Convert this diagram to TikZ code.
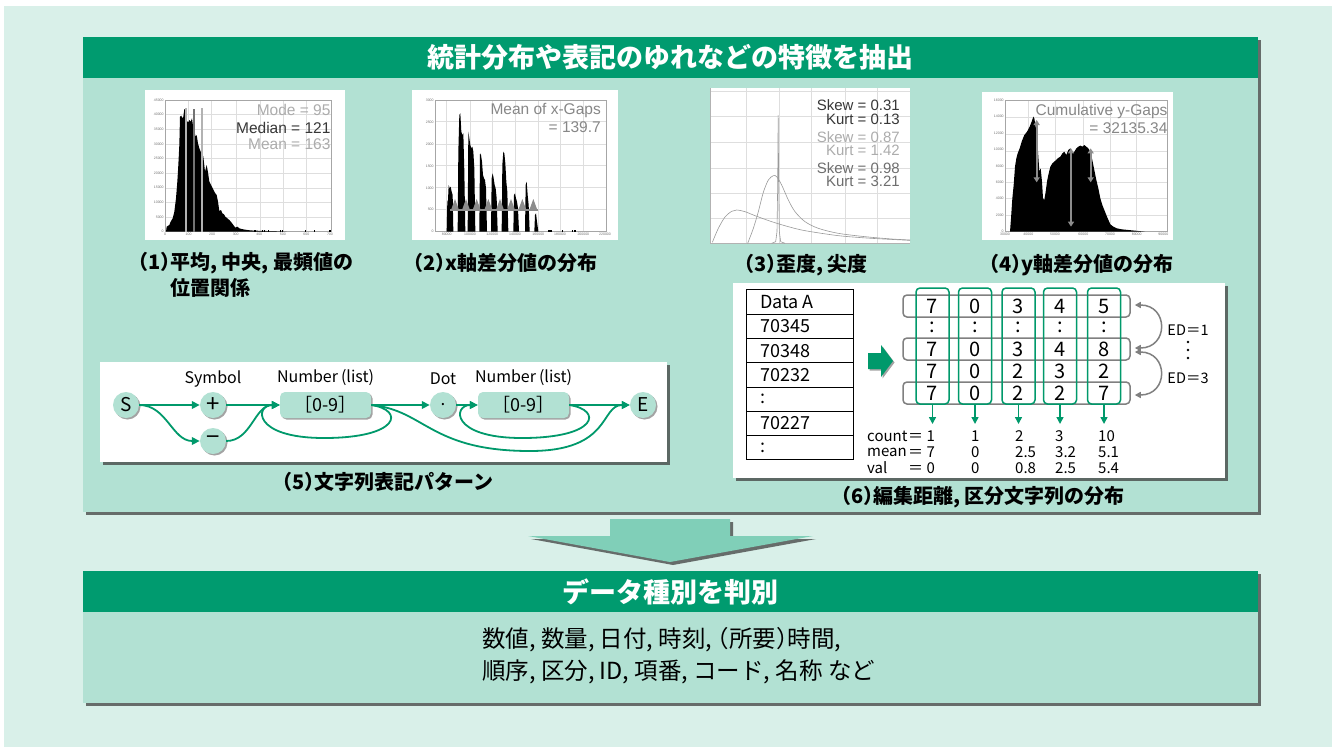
\documentclass[tikz,border=0pt]{standalone}
\usepackage{fontspec}
\setmainfont{Noto Sans CJK JP}
\newfontfamily\plotfont{Liberation Sans}
\usetikzlibrary{shadows,arrows.meta}
\newcommand\LP{\kern-.5em（}
\newcommand\RP{）\kern-.5em}
\definecolor{bgmint}{RGB}{217,240,233}
\definecolor{panelmint}{RGB}{178,225,211}
\definecolor{hdrgreen}{RGB}{0,155,111}
\definecolor{linegreen}{RGB}{0,153,107}
\definecolor{arrowmint}{RGB}{128,207,184}
\definecolor{gridc}{RGB}{222,222,222}
\definecolor{txtlight}{RGB}{172,172,172}
\definecolor{txtmid}{RGB}{110,110,110}
\definecolor{txtdark}{RGB}{55,55,55}
\definecolor{txtgap}{RGB}{135,135,135}
\tikzset{
  bigshadow/.style={drop shadow={shadow xshift=3pt,shadow yshift=-3pt,opacity=0.75,fill=black!75}},
  smallshadow/.style={drop shadow={shadow xshift=1.5pt,shadow yshift=-1.5pt,opacity=0.6,fill=black!60}},
  capt/.style={font=\bfseries\fontsize{20}{22}\selectfont, inner sep=0pt, anchor=west},
  hdr/.style={font=\bfseries\fontsize{27}{29}\selectfont, text=white, inner sep=0pt},
  bodytxt/.style={font=\fontsize{23.5}{25}\selectfont, inner sep=0pt, anchor=west},
  garr/.style={draw=linegreen, line width=1.8pt, -{Triangle[length=8pt,width=7.5pt]}},
  circ/.style={circle, fill=panelmint, minimum size=26pt, inner sep=0pt, smallshadow, font=\fontsize{19}{20}\selectfont},
  rbox/.style={rounded corners=5pt, fill=panelmint, minimum width=91pt, minimum height=26pt, inner sep=0pt, smallshadow, font=\fontsize{18}{19}\selectfont},
  lbl/.style={font=\fontsize{16}{17}\selectfont, inner sep=0pt},
  gridl/.style={draw=gridc, line width=0.4pt},
  frame/.style={draw=black!35, line width=0.4pt},
  tick/.style={font=\plotfont\fontsize{3.5}{4}\selectfont, text=black!55, inner sep=0.5pt},
  ptxt/.style={font=\plotfont\fontsize{15.5}{16}\selectfont, anchor=east, inner sep=0pt},
  tcell/.style={draw=black, line width=1pt, minimum width=107pt, minimum height=24.3pt, inner sep=0pt},
  celltxt/.style={font=\fontsize{18}{19}\selectfont, inner sep=0pt, anchor=west},
  rowbox/.style={draw=black!50, line width=1.5pt, rounded corners=4pt, minimum width=227pt, minimum height=22pt, inner sep=0pt},
  colbox/.style={draw=linegreen, line width=1.5pt, rounded corners=4pt, minimum width=33pt, minimum height=116pt, inner sep=0pt},
  digit/.style={font=\fontsize{20}{21}\selectfont, inner sep=0pt},
  stat/.style={font=\fontsize{15}{16}\selectfont, inner sep=0pt, anchor=west},
  darr/.style={draw=linegreen, line width=1.5pt, -{Triangle[length=7pt,width=7pt]}},
  edarr/.style={draw=black!50, line width=1.5pt, {Triangle[length=6pt,width=6pt]}-{Triangle[length=6pt,width=6pt]}}
}
\begin{document}
\begin{tikzpicture}[x=1pt,y=-1pt]
\useasboundingbox (0,0) rectangle (1332,747);
\fill[white] (0,0) rectangle (1332,747);
\fill[bgmint] (4,6) rectangle (1332,747);

% ===== upper panel =====
\fill[panelmint, bigshadow] (83,37) rectangle (1258,512);
\fill[hdrgreen] (83,37) rectangle (1258,78);
\node[hdr] (title1) at (670,57) {統計分布や表記のゆれなどの特徴を抽出};

% ---- plot 1 ----
\begin{scope}[shift={(140,85)},x=0.33333pt,y=-0.33333pt]
\fill[white] (15,15) rectangle (615,465);
\foreach \gx in {145,215,290,360,430,500} \draw[gridl] (\gx,45) -- (\gx,440);
\foreach \gy in {89,133,177,221,265,309,352,396} \draw[gridl] (75,\gy) -- (575,\gy);
\draw[frame] (75,45) rectangle (575,440);
\foreach \v [count=\i from 0] in {0,5000,10000,15000,20000,25000,30000,35000,40000,45000}
  \node[tick, anchor=east] (h1y\i) at (73,{440-43.9*\i}) {\v};
\foreach \v [count=\i from 0] in {0,100,200,300,400,500,600,700}
  \node[tick, anchor=north] (h1x\i) at ({75+70.7*\i},443) {\v};
\fill[black] (78,440) -- (80,425) -- (88,420) -- (92,410) -- (98,400) -- (103,380) -- (108,340) -- (112,290) -- (115,240) -- (118,180) -- (120,95) -- (124,92) -- (127,100) -- (130,95) -- (133,72) -- (136,75) -- (140,108) -- (145,112) -- (148,105) -- (152,110) -- (156,100) -- (160,130) -- (163,140) -- (167,155) -- (170,150) -- (174,175) -- (178,190) -- (182,200) -- (186,205) -- (190,215) -- (195,260) -- (200,240) -- (204,262) -- (208,290) -- (213,300) -- (218,310) -- (222,318) -- (226,325) -- (230,330) -- (234,350) -- (238,378) -- (243,375) -- (247,385) -- (252,388) -- (256,395) -- (262,400) -- (268,405) -- (274,412) -- (280,420) -- (286,428) -- (292,425) -- (298,430) -- (305,432) -- (315,434) -- (330,436) -- (345,437) -- (380,438) -- (420,439) -- (440,440) -- cycle;
\foreach \bx in {343,366,372,384,420,426,495,522,568} \fill[black] (\bx,440) rectangle ++(4,-6);
\draw[line width=2.3pt, black!30] (138,440) -- (138,70);
\draw[line width=2.3pt, black!55] (162,440) -- (162,72);
\draw[line width=2.3pt, black!30] (187,440) -- (187,70);
\node[ptxt, text=txtlight] (h1mode) at (572,76) {Mode = 95};
\node[ptxt, text=txtdark] (h1med) at (572,128) {Median = 121};
\node[ptxt, text=txtlight] (h1mean) at (572,178) {Mean = 163};
\end{scope}

% ---- plot 2 ----
\begin{scope}[shift={(405,85)},x=0.33333pt,y=-0.33333pt]
\fill[white] (20,15) rectangle (640,465);
\foreach \gx in {125,195,262,330,400,465,535} \draw[gridl] (\gx,45) -- (\gx,440);
\foreach \gy in {110,177,242,308,374} \draw[gridl] (90,\gy) -- (605,\gy);
\draw[frame] (90,45) rectangle (605,440);
\foreach \v [count=\i from 0] in {0,500,1000,1500,2000,2500,3000}
  \node[tick, anchor=east] (h2y\i) at (88,{440-65.8*\i}) {\v};
\foreach \v/\gx [count=\i] in {80000/125,100000/195,120000/262,140000/330,160000/400,180000/465,200000/535,220000/600}
  \node[tick, anchor=north] (h2x\i) at (\gx,443) {\v};
\fill[black] (125,440) -- (127,350) -- (129,345) -- (131,300) -- (134,310) -- (137,305) -- (140,320) -- (143,330) -- (145,440) -- cycle;
\fill[black] (158,440) -- (160,200) -- (163,90) -- (166,85) -- (169,140) -- (172,150) -- (175,145) -- (178,260) -- (181,440) -- cycle;
\fill[black] (188,440) -- (190,140) -- (193,160) -- (196,180) -- (199,190) -- (202,185) -- (205,200) -- (208,250) -- (211,440) -- cycle;
\fill[black] (223,440) -- (225,205) -- (228,210) -- (231,230) -- (234,270) -- (237,280) -- (240,285) -- (243,310) -- (246,440) -- cycle;
\fill[black] (258,440) -- (260,280) -- (263,265) -- (266,280) -- (269,300) -- (272,310) -- (275,340) -- (278,440) -- cycle;
\fill[black] (290,440) -- (292,240) -- (295,200) -- (298,205) -- (301,235) -- (304,290) -- (307,320) -- (310,440) -- cycle;
\fill[black] (325,440) -- (327,330) -- (330,325) -- (333,340) -- (336,350) -- (339,370) -- (342,440) -- cycle;
\fill[black] (360,440) -- (362,300) -- (365,290) -- (368,330) -- (371,360) -- (374,440) -- cycle;
\fill[black] (388,440) -- (390,390) -- (393,385) -- (396,410) -- (400,440) -- cycle;
\foreach \bx in {430,436,470,500,508} \fill[black] (\bx,440) rectangle ++(4,-5);
\draw[line width=1.2pt, black!45] (135,375) -- (400,375);
\foreach \tx in {150,183,215,250,285,318,352,385} \fill[black!45] (\tx-12,375) -- (\tx,342) -- (\tx+12,375) -- cycle;
\node[ptxt, text=txtgap] (h2a) at (588,76) {Mean of x-Gaps};
\node[ptxt, text=txtgap] (h2b) at (588,126) {= 139.7};
\end{scope}

% ---- plot 3 ----
\begin{scope}[shift={(705,85)},x=0.33333pt,y=-0.33333pt]
\fill[white] (15,10) rectangle (615,478);
\foreach \gx in {125,222,320,420,518} \draw[gridl] (\gx,10) -- (\gx,475);
\foreach \gy in {18,95,172,250,325,400} \draw[gridl] (15,\gy) -- (615,\gy);
\draw[black!30, line width=0.5pt] (15,10) -- (15,475) -- (615,475);
\draw[black!40, line width=0.6pt] (200,475) -- (212,470) -- (216,440) -- (218,300) -- (219.5,90) -- (221,300) -- (223,440) -- (227,470) -- (240,475);
\draw[black!40, line width=0.6pt] plot[smooth] coordinates {(128,475) (145,430) (160,380) (175,322) (190,285) (205,272) (215,275) (230,300) (250,345) (270,380) (300,410) (340,430) (400,445) (480,455) (560,462) (615,465)};
\draw[black!40, line width=0.6pt] plot[smooth] coordinates {(22,472) (40,430) (60,396) (80,379) (95,375) (120,380) (150,392) (200,410) (250,425) (300,437) (400,452) (500,460) (615,466)};
\node[ptxt, text=txtdark, font=\plotfont\fontsize{15}{16}\selectfont] (s1) at (585,60) {Skew = 0.31};
\node[ptxt, text=txtdark, font=\plotfont\fontsize{15}{16}\selectfont] (k1) at (585,103) {Kurt = 0.13};
\node[ptxt, text=txtlight, font=\plotfont\fontsize{15}{16}\selectfont] (s2) at (585,155) {Skew = 0.87};
\node[ptxt, text=txtlight, font=\plotfont\fontsize{15}{16}\selectfont] (k2) at (585,197) {Kurt = 1.42};
\node[ptxt, text=txtmid, font=\plotfont\fontsize{15}{16}\selectfont] (s3) at (585,248) {Skew = 0.98};
\node[ptxt, text=txtmid, font=\plotfont\fontsize{15}{16}\selectfont] (k3) at (585,290) {Kurt = 3.21};
\end{scope}

% ---- plot 4 ----
\begin{scope}[shift={(975,85)},x=0.33333pt,y=-0.33333pt]
\fill[white] (20,20) rectangle (595,465);
\foreach \gx in {160,240,325,405,485} \draw[gridl] (\gx,45) -- (\gx,440);
\foreach \gy in {97,148,200,250,293,340,390} \draw[gridl] (90,\gy) -- (578,\gy);
\draw[frame] (90,45) rectangle (578,440);
\foreach \v [count=\i from 0] in {0,2000,4000,6000,8000,10000,12000,14000,16000}
  \node[tick, anchor=east] (h4y\i) at (88,{440-49.4*\i}) {\v};
\foreach \v/\gx [count=\i] in {30000/90,40000/160,50000/240,60000/325,70000/405,80000/485,90000/565}
  \node[tick, anchor=north] (h4x\i) at (\gx,443) {\v};
\fill[black] (105,440) -- (108,400) -- (112,340) -- (116,300) -- (120,245) -- (124,220) -- (128,205) -- (134,190) -- (140,170) -- (148,150) -- (156,140) -- (164,125) -- (170,110) -- (175,95) -- (178,100) -- (182,125) -- (188,185) -- (193,260) -- (197,250) -- (201,290) -- (204,340) -- (208,345) -- (212,320) -- (216,290) -- (220,270) -- (226,245) -- (232,235) -- (240,228) -- (248,220) -- (256,215) -- (262,205) -- (268,200) -- (274,210) -- (280,195) -- (286,190) -- (292,205) -- (298,200) -- (304,190) -- (310,185) -- (316,182) -- (322,185) -- (328,180) -- (334,185) -- (340,190) -- (346,200) -- (352,225) -- (358,255) -- (364,285) -- (370,310) -- (376,340) -- (382,360) -- (390,380) -- (398,400) -- (406,418) -- (415,425) -- (425,430) -- (440,433) -- (460,435) -- (480,437) -- (500,439) -- (510,440) -- cycle;
\draw[line width=2pt, black!45, {Triangle[length=5pt,width=6pt]}-{Triangle[length=5pt,width=6pt]}] (185,105) -- (185,292);
\draw[line width=2pt, black!45, {Triangle[length=5pt,width=6pt]}-{Triangle[length=5pt,width=6pt]}] (288,190) -- (288,425);
\draw[line width=2pt, black!45, {Triangle[length=5pt,width=6pt]}-{Triangle[length=5pt,width=6pt]}] (347,190) -- (347,292);
\node[ptxt, text=txtgap] (h4a) at (578,80) {Cumulative y-Gaps};
\node[ptxt, text=txtgap] (h4b) at (578,128) {= 32135.34};
\end{scope}

% ---- captions 1-4 ----
\node[capt] (c1a) at (138,263) {\LP1\RP 平均, 中央, 最頻値の};
\node[capt] (c1b) at (170,288) {位置関係};
\node[capt] (c2) at (413,263) {\LP2\RP x軸差分値の分布};
\node[capt] (c3) at (744,265) {\LP3\RP 歪度, 尖度};
\node[capt] (c4) at (989,265) {\LP4\RP y軸差分値の分布};

% ---- panel 5 ----
\fill[white, bigshadow] (100,362) rectangle (667,462);
\node[circ] (S) at (126,405) {S};
\node[circ, font=\fontsize{24}{24}\selectfont] (plus) at (213,405) {+};
\node[circ, font=\fontsize{24}{24}\selectfont] (minus) at (213,441) {−};
\node[rbox] (box1) at (325.5,405) {［0-9］};
\node[circ, font=\fontsize{17}{17}\selectfont] (dot) at (443,405) {.};
\node[rbox] (box2) at (523.5,405) {［0-9］};
\node[circ] (E) at (643,405) {E};
\node[lbl] (lsym) at (213,379) {Symbol};
\node[lbl] (lnum1) at (325.5,378) {Number\hspace{3pt}(list)};
\node[lbl] (ldot) at (443,379) {Dot};
\node[lbl] (lnum2) at (523.5,378) {Number\hspace{3pt}(list)};
\coordinate (l1b) at (324,438);
\coordinate (l2b) at (522,438);
\coordinate (l3b) at (530,451);
\draw[garr] (S.east) -- (plus.west);
\draw[garr] (S.east) to[out=0,in=180] (minus.west);
\draw[garr] (plus.east) -- (box1.west);
\draw[garr] (minus.east) to[out=0,in=180] (box1.west);
\draw[garr] (box1.east) .. controls (405,410) and (400,438) .. (l1b) .. controls (252,438) and (255,405) .. (box1.west);
\draw[garr] (box1.east) -- (dot.west);
\draw[garr] (box1.east) .. controls (425,410) and (430,451) .. (l3b) .. controls (612,451) and (600,405) .. (E.west);
\draw[garr] (dot.east) -- (box2.west);
\draw[garr] (box2.east) .. controls (603,410) and (598,438) .. (l2b) .. controls (450,438) and (453,405) .. (box2.west);
\draw[garr] (box2.east) -- (E.west);
\node[capt] (c5) at (282,482) {\LP5\RP 文字列表記パターン};

% ---- panel 6 ----
\fill[white, bigshadow] (733,283) rectangle (1225,478);
\foreach \t [count=\i from 0] in {Data A,70345,70348,70232,:,70227,:} {
  \node[tcell] (cell\i) at (799.5,{302+24.3*\i}) {};
  \node[celltxt] (ct\i) at (760,{302+24.3*\i}) {\t};
}
\fill[linegreen, smallshadow] (868,353) -- (881,353) -- (881,345) -- (893,361) -- (881,377) -- (881,369) -- (868,369) -- cycle;
\node[rowbox] (row1) at (1016.5,306) {};
\node[rowbox] (row3) at (1016.5,349) {};
\node[rowbox] (row5) at (1016.5,393) {};
\foreach \cx [count=\c] in {932.5,975,1018.5,1060,1104} {
  \node[colbox] (col\c) at (\cx,346) {};
  \coordinate (dn\c) at (\cx,424);
  \draw[darr] (col\c.south) -- (dn\c);
}
\foreach \r/\ry/\vals in {1/306/{7,0,3,4,5},2/327/{:,:,:,:,:},3/349/{7,0,3,4,8},4/371/{7,0,2,3,2},5/393/{7,0,2,2,7}} {
  \foreach \v [count=\c] in \vals {
    \pgfmathsetmacro{\cx}{{932.5,975,1018.5,1060,1104}[\c-1]}
    \node[digit] (d\r\c) at (\cx,\ry) {\v};
  }
}
\node[stat] (st1) at (867,436) {count};
\node[stat] (st2) at (867,452) {mean};
\node[stat] (st3) at (867,468) {val};
\node[stat] (sv11) at (908,436) {＝ 1};
\node[stat] (sv12) at (908,452) {＝ 7};
\node[stat] (sv13) at (908,468) {＝ 0};
\foreach \x/\a/\b/\cc [count=\k] in {971/1/0/0,1015/2/2.5/0.8,1055/3/3.2/2.5,1098/10/5.1/5.4} {
  \node[stat] (sa\k) at (\x,436) {\a};
  \node[stat] (sb\k) at (\x,452) {\b};
  \node[stat] (sc\k) at (\x,468) {\cc};
}
\draw[edarr] ([xshift=4pt,yshift=1pt]row1.east) .. controls +(34,0) and +(34,0) .. ([xshift=4pt,yshift=1pt]row3.east);
\draw[edarr] ([xshift=4pt,yshift=-3pt]row3.east) .. controls +(34,0) and +(34,0) .. ([xshift=4pt,yshift=-2pt]row5.east);
\node[font=\fontsize{14.5}{15}\selectfont, inner sep=0pt] (ed1) at (1188,330) {ED＝1};
\node[font=\fontsize{14.5}{15}\selectfont, inner sep=0pt] (ed3) at (1188,378) {ED＝3};
\foreach \dy in {342,350,358} \fill[black] (1188,\dy) circle[radius=1.4pt];
\node[capt] (c6) at (841,497) {\LP6\RP 編集距離, 区分文字列の分布};

% ===== arrow =====
\fill[arrowmint, bigshadow] (610,519) -- (730,519) -- (730,536) -- (813,536) -- (670,562) -- (528,536) -- (610,536) -- cycle;

% ===== lower panel =====
\fill[panelmint, bigshadow] (83,571) rectangle (1258,703);
\fill[hdrgreen] (83,571) rectangle (1258,612);
\node[hdr] (title2) at (670,592) {データ種別を判別};
\node[bodytxt] (body1) at (482,640) {数値, 数量, 日付, 時刻, \LP 所要\RP 時間,};
\node[bodytxt] (body2) at (482,672) {順序, 区分, ID, 項番, コード, 名称 など};
\end{tikzpicture}
\end{document}
